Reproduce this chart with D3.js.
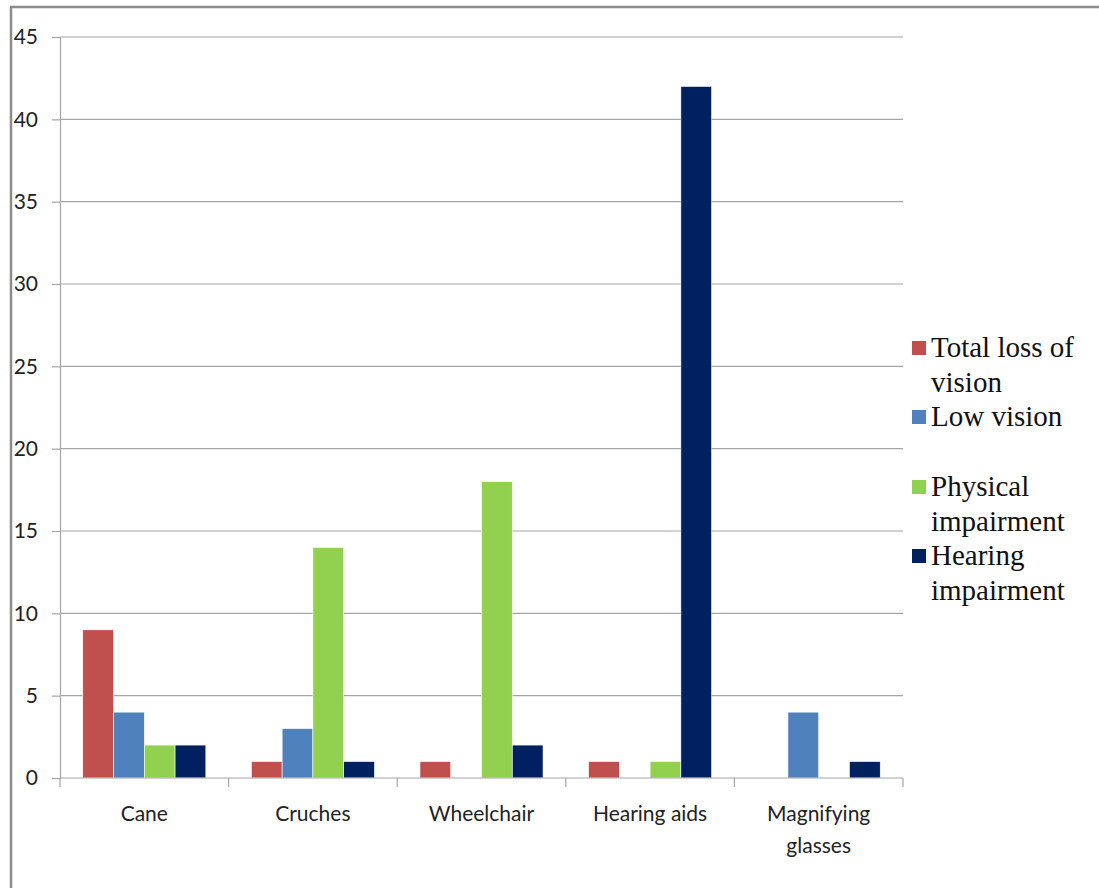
<!DOCTYPE html>
<html>
<head>
<meta charset="utf-8">
<script src="https://cdn.jsdelivr.net/npm/d3@7"></script>
<style>
  html, body { margin: 0; padding: 0; background: #fff; }
  svg { display: block; }
</style>
</head>
<body>
<svg id="chart" width="1099" height="888"></svg>
<script>
// Assistive devices used, by type of impairment
const categories = ["Cane", "Cruches", "Wheelchair", "Hearing aids", "Magnifying glasses"];
const seriesNames = ["Total loss of vision", "Low vision", "Physical impairment", "Hearing impairment"];
const totalLoss = [9, 1, 1, 1, 0];
const lowVision = [4, 3, 0, 0, 4];
const physical = [2, 14, 18, 1, 0];
const hearing = [2, 1, 2, 42, 1];
const yTicks = [0, 5, 10, 15, 20, 25, 30, 35, 40, 45];
const colors = ["#C0504D", "#4F81BD", "#92D050", "#002060"];

const seriesValues = [totalLoss, lowVision, physical, hearing];

const svg = d3.select("#chart");
const plot = { left: 60, right: 903, top: 37, bottom: 778 };

// outer frame
svg.append("rect")
  .attr("x", 11).attr("y", 7)
  .attr("width", 1200).attr("height", 1000)
  .attr("fill", "none").attr("stroke", "#8c8c8c").attr("stroke-width", 2.5);

const x = d3.scaleBand().domain(categories).range([plot.left, plot.right]).paddingInner(0.27).paddingOuter(0.135);
const xs = d3.scaleBand().domain(d3.range(seriesNames.length)).range([0, x.bandwidth()]);
const y = d3.scaleLinear().domain([0, 45]).range([plot.bottom, plot.top]);

// horizontal gridlines
svg.append("g").selectAll("line").data(yTicks.filter(d => d > 0)).join("line")
  .attr("x1", plot.left).attr("x2", plot.right)
  .attr("y1", d => y(d)).attr("y2", d => y(d))
  .attr("stroke", "#a6a6a6").attr("stroke-width", 1.2);

// y axis
const yAxis = svg.append("g").attr("transform", `translate(${plot.left},0)`)
  .call(d3.axisLeft(y).tickValues(yTicks).tickSize(8).tickPadding(14));
yAxis.select(".domain").attr("stroke", "#a6a6a6").attr("stroke-width", 1.2);
yAxis.selectAll(".tick line").attr("stroke", "#a6a6a6").attr("stroke-width", 1.2);
yAxis.selectAll(".tick text")
  .attr("font-family", "Lato, 'Open Sans', sans-serif").attr("font-size", 21).attr("fill", "#222");

// bars
const groups = svg.append("g").selectAll("g").data(categories).join("g")
  .attr("transform", d => `translate(${x(d)},0)`);
groups.selectAll("rect")
  .data((c, i) => seriesValues.map((vals, s) => ({ s, v: vals[i] })))
  .join("rect")
  .attr("x", d => xs(d.s))
  .attr("width", xs.bandwidth())
  .attr("y", d => y(d.v))
  .attr("height", d => y(0) - y(d.v))
  .attr("fill", d => colors[d.s])
  .attr("stroke", d => d.v > 0 ? "#ffffff" : "none")
  .attr("stroke-width", 0.6);

// x axis baseline and category ticks
const bounds = d3.range(categories.length + 1).map(i => plot.left + i * (plot.right - plot.left) / categories.length);
svg.append("line")
  .attr("x1", plot.left).attr("x2", plot.right)
  .attr("y1", plot.bottom).attr("y2", plot.bottom)
  .attr("stroke", "#a6a6a6").attr("stroke-width", 1.2);
svg.append("g").selectAll("line").data(bounds).join("line")
  .attr("x1", d => d).attr("x2", d => d)
  .attr("y1", plot.bottom).attr("y2", plot.bottom + 9)
  .attr("stroke", "#a6a6a6").attr("stroke-width", 1.2);

// category labels (long names wrap onto two lines)
const catLines = { "Magnifying glasses": ["Magnifying", "glasses"] };
svg.append("g").selectAll("text").data(categories).join("text")
  .attr("x", d => x(d) + x.bandwidth() / 2)
  .attr("y", 821)
  .attr("text-anchor", "middle")
  .attr("font-family", "Lato, 'Open Sans', sans-serif").attr("font-size", 21).attr("fill", "#222")
  .each(function (d) {
    const lines = catLines[d] || [d];
    d3.select(this).selectAll("tspan").data(lines).join("tspan")
      .attr("x", x(d) + x.bandwidth() / 2)
      .attr("dy", (l, i) => i === 0 ? 0 : 32)
      .text(l => l);
  });

// legend
const legendLines = [["Total loss of", "vision"], ["Low vision"], ["Physical", "impairment"], ["Hearing", "impairment"]];
const legendTop = [357, 426, 496, 565];
const legend = svg.append("g");
seriesNames.forEach((name, i) => {
  legend.append("rect")
    .attr("x", 912).attr("y", legendTop[i] - 16)
    .attr("width", 14).attr("height", 14)
    .attr("fill", colors[i]);
  const t = legend.append("text")
    .attr("x", 931).attr("y", legendTop[i])
    .attr("font-family", "'Liberation Serif', 'Times New Roman', serif")
    .attr("font-size", 29).attr("fill", "#111");
  t.selectAll("tspan").data(legendLines[i]).join("tspan")
    .attr("x", 931).attr("dy", (l, j) => j === 0 ? 0 : 35)
    .text(l => l);
});
</script>
</body>
</html>
